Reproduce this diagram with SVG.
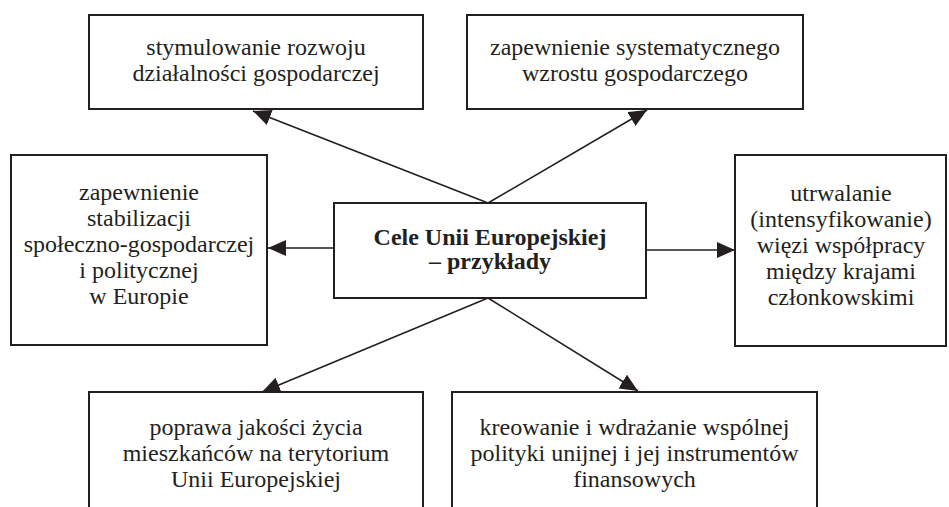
<svg xmlns="http://www.w3.org/2000/svg" width="949" height="507" viewBox="0 0 949 507">
  <defs>
    <style>
      .box { fill: #ffffff; stroke: #231f20; stroke-width: 2; }
      .txt { font-family: "Liberation Serif", "Times New Roman", serif; font-size: 24px; fill: #231f20; text-anchor: middle; }
      .bold { font-weight: bold; }
      .conn { stroke: #231f20; stroke-width: 1.6; fill: none; }
    </style>
    <marker id="arrow" viewBox="0 0 18 16" refX="18" refY="8" markerWidth="18" markerHeight="16" markerUnits="userSpaceOnUse" orient="auto">
      <path d="M0,0 L18,8 L0,16 z" fill="#231f20"/>
    </marker>
  </defs>
  <rect x="0" y="0" width="949" height="507" fill="#ffffff"/>

  <g id="connectors">
    <line class="conn" x1="488" y1="203" x2="253" y2="111" marker-end="url(#arrow)"/>
    <line class="conn" x1="488" y1="203" x2="647" y2="110" marker-end="url(#arrow)"/>
    <line class="conn" x1="334" y1="248" x2="268" y2="248" marker-end="url(#arrow)"/>
    <line class="conn" x1="646" y1="250" x2="735" y2="250" marker-end="url(#arrow)"/>
    <line class="conn" x1="488" y1="298" x2="262" y2="392" marker-end="url(#arrow)"/>
    <line class="conn" x1="488" y1="298" x2="638" y2="391" marker-end="url(#arrow)"/>
  </g>

  <g id="node-top-left">
    <rect class="box" x="89" y="15" width="334" height="94"/>
    <text class="txt" x="256" y="55">stymulowanie rozwoju</text>
    <text class="txt" x="256" y="81">działalności gospodarczej</text>
  </g>

  <g id="node-top-right">
    <rect class="box" x="467" y="15" width="336" height="94"/>
    <text class="txt" x="635" y="55">zapewnienie systematycznego</text>
    <text class="txt" x="635" y="81">wzrostu gospodarczego</text>
  </g>

  <g id="node-left">
    <rect class="box" x="11" y="155" width="256" height="190"/>
    <text class="txt" x="139" y="200">zapewnienie</text>
    <text class="txt" x="139" y="226">stabilizacji</text>
    <text class="txt" x="139" y="252">społeczno-gospodarczej</text>
    <text class="txt" x="139" y="278">i politycznej</text>
    <text class="txt" x="139" y="304">w Europie</text>
  </g>

  <g id="node-center">
    <rect class="box" x="334" y="203" width="312" height="95"/>
    <text class="txt bold" x="490" y="245">Cele Unii Europejskiej</text>
    <text class="txt bold" x="490" y="269">– przykłady</text>
  </g>

  <g id="node-right">
    <rect class="box" x="735" y="155" width="211" height="191"/>
    <text class="txt" x="841" y="201">utrwalanie</text>
    <text class="txt" x="841" y="227">(intensyfikowanie)</text>
    <text class="txt" x="841" y="253">więzi współpracy</text>
    <text class="txt" x="841" y="279">między krajami</text>
    <text class="txt" x="841" y="305">członkowskimi</text>
  </g>

  <g id="node-bottom-left">
    <rect class="box" x="89" y="392" width="334" height="130"/>
    <text class="txt" x="256" y="435">poprawa jakości życia</text>
    <text class="txt" x="256" y="461">mieszkańców na terytorium</text>
    <text class="txt" x="256" y="487">Unii Europejskiej</text>
  </g>

  <g id="node-bottom-right">
    <rect class="box" x="452" y="392" width="365" height="130"/>
    <text class="txt" x="634.5" y="435">kreowanie i wdrażanie wspólnej</text>
    <text class="txt" x="634.5" y="461">polityki unijnej i jej instrumentów</text>
    <text class="txt" x="634.5" y="487">finansowych</text>
  </g>
</svg>
